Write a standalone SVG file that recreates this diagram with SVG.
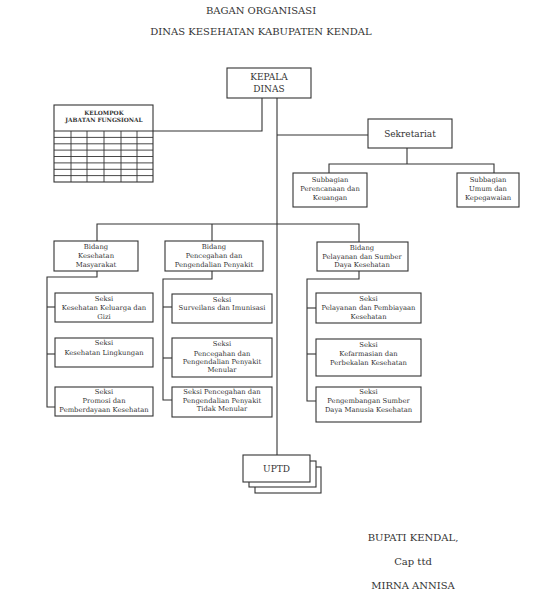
<svg xmlns="http://www.w3.org/2000/svg" width="538" height="600" viewBox="0 0 538 600">
<style>
.b{fill:#fff;stroke:#333;stroke-width:1.1}
.l{fill:none;stroke:#333;stroke-width:1.1}
.g{fill:none;stroke:#333;stroke-width:0.9}
text{font-family:"DejaVu Serif","Liberation Serif",serif;fill:#333;text-anchor:middle}
.t{font-size:10px}
.s{font-size:6.8px}
.k{font-size:5.8px;font-weight:bold}
.m{font-size:9px}
</style>
<rect width="538" height="600" fill="#fff"/>
<text class="t" x="261" y="14">BAGAN ORGANISASI</text>
<text class="t" x="261" y="35">DINAS KESEHATAN KABUPATEN KENDAL</text>

<g id="connectors">
<polyline class="l" points="262,97 262,131 153,131"/>
<line class="l" x1="277" y1="97" x2="277" y2="455"/>
<line class="l" x1="277" y1="135" x2="368" y2="135"/>
<line class="l" x1="407" y1="148" x2="407" y2="164"/>
<polyline class="l" points="329,173 329,164 494,164 494,173"/>
<polyline class="l" points="97,241 97,224 359,224 359,242"/>
<line class="l" x1="212" y1="224" x2="212" y2="241"/>
<polyline class="l" points="97,271 97,277 47,277 47,407 55,407"/>
<line class="l" x1="47" y1="307" x2="55" y2="307"/>
<line class="l" x1="47" y1="354" x2="55" y2="354"/>
<polyline class="l" points="212,271 212,279 163,279 163,400 172,400"/>
<line class="l" x1="163" y1="307" x2="172" y2="307"/>
<line class="l" x1="163" y1="358" x2="172" y2="358"/>
<polyline class="l" points="359,271 359,279 307,279 307,401 316,401"/>
<line class="l" x1="307" y1="308" x2="316" y2="308"/>
<line class="l" x1="307" y1="354" x2="316" y2="354"/>
</g>

<g id="kepala">
<rect class="b" x="227" y="68" width="84" height="30"/>
<text class="m" x="269" y="80">KEPALA</text>
<text class="m" x="269" y="92">DINAS</text>
</g>

<g id="kelompok">
<rect class="b" x="54" y="105" width="99" height="77"/>
<line class="l" x1="54" y1="131" x2="153" y2="131"/>
<path class="g" d="M71,131V182M87,131V182M104,131V182M121,131V182M137,131V182M54,137.4H153M54,143.8H153M54,150.1H153M54,156.5H153M54,162.9H153M54,169.3H153M54,175.6H153"/>
<text class="k" x="104" y="115">KELOMPOK</text>
<text class="k" x="104" y="122">JABATAN FUNGSIONAL</text>
</g>

<g id="sekretariat">
<rect class="b" x="368" y="119" width="84" height="29"/>
<text class="m" x="410" y="137">Sekretariat</text>
</g>

<g id="subbag-perencanaan">
<rect class="b" x="293" y="173" width="74" height="34"/>
<text class="s" x="330" y="182">Subbagian</text>
<text class="s" x="330" y="191">Perencanaan dan</text>
<text class="s" x="330" y="200">Keuangan</text>
</g>

<g id="subbag-umum">
<rect class="b" x="457" y="173" width="62" height="34"/>
<text class="s" x="488" y="182">Subbagian</text>
<text class="s" x="488" y="191">Umum dan</text>
<text class="s" x="488" y="200">Kepegawaian</text>
</g>

<g id="bidang-kesmas">
<rect class="b" x="54" y="241" width="84" height="30"/>
<text class="s" x="96" y="249">Bidang</text>
<text class="s" x="96" y="258">Kesehatan</text>
<text class="s" x="96" y="267">Masyarakat</text>
</g>

<g id="bidang-p2p">
<rect class="b" x="165" y="241" width="98" height="30"/>
<text class="s" x="214" y="249">Bidang</text>
<text class="s" x="214" y="258">Pencegahan dan</text>
<text class="s" x="214" y="267">Pengendalian Penyakit</text>
</g>

<g id="bidang-yankes">
<rect class="b" x="317" y="242" width="91" height="29"/>
<text class="s" x="362" y="250">Bidang</text>
<text class="s" x="362" y="259">Pelayanan dan Sumber</text>
<text class="s" x="362" y="267">Daya Kesehatan</text>
</g>

<g id="seksi-kesga">
<rect class="b" x="55" y="293" width="98" height="29"/>
<text class="s" x="104" y="301">Seksi</text>
<text class="s" x="104" y="310">Kesehatan Keluarga dan</text>
<text class="s" x="104" y="319">Gizi</text>
</g>
<g id="seksi-kesling">
<rect class="b" x="55" y="338" width="98" height="29"/>
<text class="s" x="104" y="345">Seksi</text>
<text class="s" x="104" y="355">Kesehatan Lingkungan</text>
</g>
<g id="seksi-promkes">
<rect class="b" x="55" y="387" width="98" height="29"/>
<text class="s" x="104" y="394">Seksi</text>
<text class="s" x="104" y="403">Promosi dan</text>
<text class="s" x="104" y="412">Pemberdayaan Kesehatan</text>
</g>

<g id="seksi-surveilans">
<rect class="b" x="172" y="294" width="100" height="29"/>
<text class="s" x="222" y="302">Seksi</text>
<text class="s" x="222" y="310">Surveilans dan Imunisasi</text>
</g>
<g id="seksi-p2pm">
<rect class="b" x="172" y="338" width="100" height="39"/>
<text class="s" x="222" y="346">Seksi</text>
<text class="s" x="222" y="356">Pencegahan dan</text>
<text class="s" x="222" y="364">Pengendalian Penyakit</text>
<text class="s" x="222" y="372">Menular</text>
</g>
<g id="seksi-p2ptm">
<rect class="b" x="172" y="387" width="100" height="30"/>
<text class="s" x="222" y="394">Seksi Pencegahan dan</text>
<text class="s" x="222" y="403">Pengendalian Penyakit</text>
<text class="s" x="222" y="411">Tidak Menular</text>
</g>

<g id="seksi-pelayanan">
<rect class="b" x="316" y="293" width="105" height="30"/>
<text class="s" x="368.5" y="301">Seksi</text>
<text class="s" x="368.5" y="310">Pelayanan dan Pembiayaan</text>
<text class="s" x="368.5" y="319">Kesehatan</text>
</g>
<g id="seksi-kefarmasian">
<rect class="b" x="316" y="339" width="105" height="37"/>
<text class="s" x="368.5" y="347">Seksi</text>
<text class="s" x="368.5" y="356">Kefarmasian dan</text>
<text class="s" x="368.5" y="365">Perbekalan Kesehatan</text>
</g>
<g id="seksi-sdmk">
<rect class="b" x="316" y="387" width="105" height="35"/>
<text class="s" x="368.5" y="394">Seksi</text>
<text class="s" x="368.5" y="403">Pengembangan Sumber</text>
<text class="s" x="368.5" y="412">Daya Manusia Kesehatan</text>
</g>

<g id="uptd">
<rect class="b" x="255" y="467" width="66" height="26"/>
<rect class="b" x="249" y="461" width="67" height="26"/>
<rect class="b" x="243" y="455" width="67" height="27"/>
<text class="m" x="276.5" y="472">UPTD</text>
</g>

<g id="signature">
<text class="t" x="413" y="541">BUPATI KENDAL,</text>
<text class="t" x="413" y="565">Cap ttd</text>
<text class="t" x="413" y="589">MIRNA ANNISA</text>
</g>
</svg>
